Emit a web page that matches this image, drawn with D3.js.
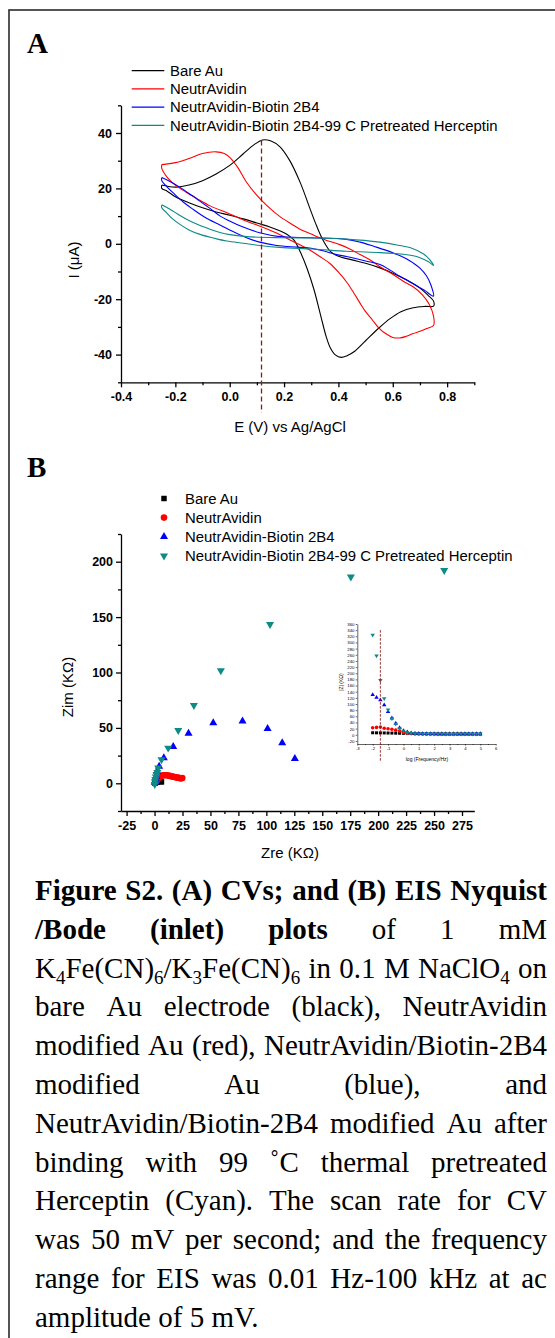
<!DOCTYPE html>
<html>
<head>
<meta charset="utf-8">
<script src="https://cdn.jsdelivr.net/npm/d3@7"></script>
<style>
  html, body { margin: 0; padding: 0; background: #fff; }
  svg { display: block; }
</style>
</head>
<body>
<svg id="fig" width="555" height="1338"></svg>
<script>
// ---------------- data ----------------
const seriesNames = [
  "Bare Au",
  "NeutrAvidin",
  "NeutrAvidin-Biotin 2B4",
  "NeutrAvidin-Biotin 2B4-99 C Pretreated Herceptin"
];
const seriesColors = ["#000000", "#ff0000", "#0000ff", "#0e8a87"];

// (A) cyclic voltammograms, [E (V), I (uA)], forward then reverse scan
const cvBare = [
  [-0.25, 21.2], [-0.22, 20.6], [-0.19, 20.5], [-0.15, 21.2], [-0.1, 22.8], [-0.05, 25.2],
  [0.0, 28.3], [0.05, 32.5], [0.09, 35.8], [0.12, 37.5], [0.15, 37.2], [0.185, 35.0],
  [0.22, 30.2], [0.26, 22.0], [0.295, 12.8], [0.32, 6.4], [0.345, 1.0], [0.37, -2.7],
  [0.4, -4.5], [0.45, -5.8], [0.5, -7.0], [0.55, -8.6], [0.6, -10.6], [0.65, -13.0],
  [0.7, -16.0], [0.73, -18.6], [0.75, -20.7], [0.75, -22.5],
  [0.72, -22.6], [0.675, -23.1], [0.63, -24.5], [0.59, -27.0], [0.55, -30.3], [0.5, -35.0],
  [0.46, -38.8], [0.43, -40.5], [0.41, -41.0], [0.39, -40.2], [0.37, -37.5], [0.355, -33.5],
  [0.335, -26.0], [0.31, -16.5], [0.285, -9.0], [0.26, -3.0], [0.235, 1.5], [0.2, 4.0],
  [0.15, 6.0], [0.1, 7.5], [0.05, 9.0], [0.0, 10.3], [-0.05, 11.5], [-0.1, 13.0],
  [-0.15, 14.8], [-0.2, 17.0], [-0.23, 19.0], [-0.25, 20.0], [-0.25, 21.2]
];
const cvNeutr = [
  [-0.25, 28.6], [-0.2, 29.3], [-0.15, 30.8], [-0.1, 32.6], [-0.05, 33.2], [-0.02, 32.6],
  [0.0, 31.2], [0.03, 27.5], [0.06, 22.5], [0.1, 17.5], [0.14, 13.5], [0.185, 9.8],
  [0.23, 7.0], [0.26, 5.2], [0.3, 3.5], [0.33, 2.2], [0.37, 0.8], [0.405, -0.3],
  [0.44, -1.8], [0.48, -3.9], [0.52, -6.0], [0.55, -8.1], [0.6, -11.0], [0.64, -13.6],
  [0.675, -15.5], [0.71, -18.5], [0.735, -22.0], [0.75, -26.1], [0.75, -29.5],
  [0.725, -30.6], [0.7, -31.6], [0.675, -32.4], [0.65, -33.4], [0.625, -34.0], [0.6, -33.8],
  [0.575, -32.5], [0.55, -30.5], [0.525, -27.5], [0.5, -24.5], [0.48, -21.5], [0.455, -17.5],
  [0.43, -13.8], [0.405, -10.8], [0.37, -7.2], [0.33, -4.5], [0.29, -2.0], [0.23, 1.0],
  [0.17, 4.0], [0.1, 6.8], [0.06, 8.2], [0.0, 10.8], [-0.07, 13.6], [-0.12, 16.3],
  [-0.16, 18.6], [-0.2, 21.2], [-0.23, 24.0], [-0.25, 27.2], [-0.25, 28.6]
];
const cvBiotin = [
  [-0.25, 23.9], [-0.22, 22.5], [-0.18, 20.2], [-0.14, 17.5], [-0.11, 15.4], [-0.07, 12.6],
  [-0.035, 10.0], [0.0, 8.2], [0.04, 6.4], [0.11, 4.0], [0.185, 2.6], [0.3, 2.2],
  [0.43, 1.6], [0.48, 0.6], [0.53, -0.9], [0.6, -3.2], [0.65, -5.4], [0.675, -6.9],
  [0.7, -8.8], [0.725, -11.7], [0.74, -14.8], [0.75, -18.9],
  [0.74, -18.5], [0.72, -17.0], [0.7, -15.9], [0.66, -13.6], [0.626, -11.7], [0.59, -9.5],
  [0.553, -7.5], [0.5, -6.2], [0.43, -4.6], [0.394, -3.9], [0.35, -2.7], [0.3, -1.6],
  [0.25, -1.2], [0.173, -0.6], [0.11, 0.6], [0.062, 2.2], [0.0, 5.0], [-0.036, 6.8],
  [-0.09, 9.5], [-0.134, 12.4], [-0.17, 15.0], [-0.208, 18.4], [-0.23, 20.5], [-0.25, 22.8],
  [-0.25, 23.9]
];
const cvHerceptin = [
  [-0.25, 14.1], [-0.22, 12.5], [-0.183, 10.2], [-0.15, 8.4], [-0.109, 6.6], [-0.07, 5.2],
  [-0.036, 4.1], [0.0, 3.3], [0.062, 2.6], [0.185, 2.2], [0.308, 2.1], [0.43, 1.7],
  [0.553, 0.6], [0.62, -0.5], [0.67, -1.6], [0.712, -3.6], [0.735, -5.6], [0.75, -7.8],
  [0.73, -6.4], [0.7, -5.0], [0.675, -4.3], [0.62, -3.6], [0.553, -3.2], [0.43, -2.7],
  [0.308, -1.9], [0.185, -1.3], [0.111, -0.6], [0.05, 0.2], [-0.011, 1.0], [-0.06, 2.1],
  [-0.109, 3.4], [-0.15, 5.0], [-0.183, 7.0], [-0.21, 9.0], [-0.232, 11.2], [-0.25, 13.0],
  [-0.25, 14.1]
];
const cvPeakE = 0.117;            // dashed marker at the bare Au anodic peak
const cvPeakSpan = [37.3, -61];   // I range the dashed marker covers

const cvXMajor = [-0.4, -0.2, 0, 0.2, 0.4, 0.6, 0.8];
const cvXMinor = [-0.3, -0.1, 0.1, 0.3, 0.5, 0.7, 0.9];
const cvYMajor = [-40, -20, 0, 20, 40];
const cvYMinor = [-50, -30, -10, 10, 30, 50];

// (B) Nyquist, [Zre, Zim] in kOhm
const nyqBare = [
  [0.3, 0.2], [0.8, 0.5], [1.3, 0.9], [1.9, 1.2], [2.5, 1.5], [3.1, 1.7],
  [3.8, 1.8], [4.4, 1.8], [5.0, 1.7], [5.6, 1.5], [6.2, 1.3]
];
const nyqNeutr = [
  [1.5, 1.5], [2.5, 3.2], [3.6, 4.8], [4.8, 6.0], [6.2, 6.8], [7.7, 7.2], [9.2, 7.3],
  [10.7, 7.2], [12.2, 7.0], [13.6, 6.7], [15.0, 6.4], [16.4, 6.0], [17.8, 5.7], [19.1, 5.4],
  [20.3, 5.1], [21.4, 4.9], [22.4, 4.7], [23.3, 4.6], [24.1, 4.6], [24.8, 4.8]
];
const nyqBiotin = [
  [0.2, 0.8], [0.5, 2.2], [0.9, 4.0], [1.4, 6.3], [2.3, 10.8], [4.1, 15.3], [8.3, 22.9],
  [16.7, 33.1], [30.4, 45.1], [52.5, 54.5], [78.7, 56.0], [101.1, 49.4], [114.2, 36.4],
  [125.5, 22.3]
];
const nyqHerceptin = [
  [0.2, -1.0], [0.4, 1.5], [0.7, 3.5], [1.2, 5.9], [1.8, 8.0], [2.5, 9.9], [3.3, 13.9],
  [6.2, 21.4], [12.2, 31.9], [21.2, 47.8], [35.2, 70.4], [59.3, 101.7], [103.3, 143.5],
  [175.6, 186.3], [259.1, 192.2]
];
const nyqXMajor = [-25, 0, 25, 50, 75, 100, 125, 150, 175, 200, 225, 250, 275];
const nyqXMinor = [-12.5, 12.5, 37.5, 62.5, 87.5, 112.5, 137.5, 162.5, 187.5, 212.5, 237.5, 262.5];
const nyqYMajor = [0, 50, 100, 150, 200];
const nyqYMinor = [-25, 25, 75, 125, 175, 225];

// (B inset) Bode |Z| (kOhm) against log(f / Hz)
const bodeLogF = [-2, -1.75, -1.5, -1.25, -1, -0.75, -0.5, -0.25, 0, 0.25, 0.5, 0.75, 1, 1.25,
  1.5, 1.75, 2, 2.25, 2.5, 2.75, 3, 3.25, 3.5, 3.75, 4, 4.25, 4.5, 4.75, 5];
const bodeBare = [6.5, 6.3, 6.1, 5.9, 5.7, 5.5, 5.2, 4.9, 4.6, 4.3, 4.0, 3.7, 3.4, 3.1,
  2.9, 2.8, 2.7, 2.6, 2.6, 2.5, 2.5, 2.5, 2.5, 2.5, 2.5, 2.5, 2.5, 2.5, 2.5];
const bodeNeutr = [23, 24, 25, 21, 19.5, 18, 15, 12, 7.5, 5, 4, 3.5, 3.2, 3,
  2.9, 2.8, 2.8, 2.7, 2.7, 2.7, 2.7, 2.7, 2.7, 2.7, 2.7, 2.7, 2.7, 2.7, 2.7];
const bodeBiotin = [130, 121, 113, 97, 75, 54, 37, 23, 13, 9, 6, 4.5, 4, 3.5,
  3.2, 3, 3, 2.9, 2.9, 2.9, 2.9, 2.9, 2.9, 2.9, 2.9, 2.9, 2.9, 2.9, 2.9];
const bodeHerceptin = [324, 257, 177, 118, 81, 53, 35, 20, 12, 7, 5, 4, 3.6, 3.3,
  3.1, 3, 3, 3, 3, 3, 3, 3, 3, 3, 3, 3, 3, 3, 3];
const bodeMarkLogF = -1.5;
const bodeMarkSpan = [340, -85];
const bodeXMajor = [-3, -2, -1, 0, 1, 2, 3, 4, 5, 6];
const bodeXMinor = [-2.5, -1.5, -0.5, 0.5, 1.5, 2.5, 3.5, 4.5, 5.5];
const bodeYMajor = [-20, 0, 20, 40, 60, 80, 100, 120, 140, 160, 180, 200, 220, 240, 260, 280,
  300, 320, 340, 360];

// caption, one entry per printed line ("**" = bold word, ~x~ = subscript)
const captionLines = [
  ["**Figure", "**S2.", "**(A)", "**CVs;", "**and", "**(B)", "**EIS", "**Nyquist"],
  ["**/Bode", "**(inlet)", "**plots", "of", "1", "mM"],
  ["K~4~Fe(CN)~6~/K~3~Fe(CN)~6~", "in", "0.1", "M", "NaClO~4~", "on"],
  ["bare", "Au", "electrode", "(black),", "NeutrAvidin"],
  ["modified", "Au", "(red),", "NeutrAvidin/Biotin-2B4"],
  ["modified", "Au", "(blue),", "and"],
  ["NeutrAvidin/Biotin-2B4", "modified", "Au", "after"],
  ["binding", "with", "99", "˚C", "thermal", "pretreated"],
  ["Herceptin", "(Cyan).", "The", "scan", "rate", "for", "CV"],
  ["was", "50", "mV", "per", "second;", "and", "the", "frequency"],
  ["range", "for", "EIS", "was", "0.01", "Hz-100", "kHz", "at", "ac"],
  ["amplitude", "of", "5", "mV."]
];

// ---------------- drawing ----------------
const SANS = "'Liberation Sans', Arial, Helvetica, sans-serif";
const SERIF = "'Liberation Serif', 'Times New Roman', serif";
const svg = d3.select("#fig");
const hyphen = f => d => f(d).replace("\u2212", "-");

// outer frame
svg.append("rect")
  .attr("x", 9).attr("y", 10).attr("width", 560).attr("height", 1345)
  .attr("fill", "none").attr("stroke", "#2b2b2b").attr("stroke-width", 1.6);

svg.append("text").attr("x", 27).attr("y", 53).text("A")
  .attr("font-family", SERIF).attr("font-weight", "bold").attr("font-size", 29);
svg.append("text").attr("x", 27).attr("y", 477).text("B")
  .attr("font-family", SERIF).attr("font-weight", "bold").attr("font-size", 29);

function drawAxes(g, x, y, s) {
  const bottom = y.range()[0];
  const left = x.range()[0];
  const gx = g.append("g").attr("transform", `translate(0,${bottom})`);
  if (s.xMinor) {
    gx.append("g")
      .call(d3.axisBottom(x).tickValues(s.xMinor).tickSize(s.minor).tickFormat(""))
      .call(a => a.select(".domain").remove());
  }
  gx.append("g")
    .call(d3.axisBottom(x).tickValues(s.xMajor).tickSize(s.major).tickSizeOuter(0)
      .tickPadding(s.padX).tickFormat(s.fx));

  const gy = g.append("g").attr("transform", `translate(${left},0)`);
  if (s.yMinor) {
    gy.append("g")
      .call(d3.axisLeft(y).tickValues(s.yMinor).tickSize(s.minor).tickFormat(""))
      .call(a => a.select(".domain").remove());
  }
  gy.append("g")
    .call(d3.axisLeft(y).tickValues(s.yMajor).tickSize(s.major).tickSizeOuter(0)
      .tickPadding(s.padY).tickFormat(s.fy));

  g.selectAll("path, line").attr("stroke", "#000").attr("stroke-width", s.sw);
  g.selectAll("text")
    .attr("font-family", SANS).attr("font-size", s.fs)
    .attr("font-weight", s.fw).attr("fill", "#000");
}

// ---------- panel A : CV ----------
const xA = d3.scaleLinear().domain([-0.4, 0.9]).range([121, 474.3]);
const yA = d3.scaleLinear().domain([-50, 50]).range([382.3, 105.3]);
const gA = svg.append("g");

drawAxes(gA.append("g"), xA, yA, {
  xMajor: cvXMajor, xMinor: cvXMinor, yMajor: cvYMajor, yMinor: cvYMinor,
  fx: hyphen(d3.format(".1f")), fy: hyphen(d3.format("d")),
  major: 5, minor: 3, padX: 5, padY: 4, sw: 1.3, fs: 12.5, fw: "bold"
});

const cvLine = d3.line()
  .x(d => xA(d[0])).y(d => yA(d[1]))
  .curve(d3.curveCatmullRom.alpha(0.5));

[cvBare, cvNeutr, cvBiotin, cvHerceptin].forEach((cv, i) => {
  gA.append("path").datum(cv)
    .attr("d", cvLine)
    .attr("fill", "none")
    .attr("stroke", seriesColors[i])
    .attr("stroke-width", 1.1);
});

gA.append("line")
  .attr("x1", xA(cvPeakE)).attr("x2", xA(cvPeakE))
  .attr("y1", yA(cvPeakSpan[0])).attr("y2", yA(cvPeakSpan[1]))
  .attr("stroke", "#8e1b1b").attr("stroke-width", 1.3)
  .attr("stroke-dasharray", "5,3");

const legA = gA.append("g").attr("font-family", SANS).attr("font-size", 14.9);
seriesNames.forEach((name, i) => {
  const yy = 70.7 + i * 18.2;
  legA.append("line").attr("x1", 131.7).attr("x2", 164.3).attr("y1", yy).attr("y2", yy)
    .attr("stroke", seriesColors[i]).attr("stroke-width", 1.3);
  legA.append("text").attr("x", 170).attr("y", yy + 5.3).text(name);
});

gA.append("text").attr("x", 290).attr("y", 432).attr("text-anchor", "middle")
  .attr("font-family", SANS).attr("font-size", 15).text("E (V) vs Ag/AgCl");
gA.append("text").attr("transform", "translate(78.5,260) rotate(-90)")
  .attr("text-anchor", "middle").attr("font-family", SANS).attr("font-size", 15)
  .text("I (\u03bcA)");

// ---------- panel B : Nyquist ----------
const xB = d3.scaleLinear().domain([-30, 286]).range([121, 474.3]);
const yB = d3.scaleLinear().domain([-25, 225]).range([811, 534]);
const gB = svg.append("g");

drawAxes(gB.append("g"), xB, yB, {
  xMajor: nyqXMajor, xMinor: nyqXMinor, yMajor: nyqYMajor, yMinor: nyqYMinor,
  fx: hyphen(d3.format("d")), fy: hyphen(d3.format("d")),
  major: 5, minor: 3, padX: 5, padY: 3, sw: 1.3, fs: 12.5, fw: "bold"
});

const markerShapes = [
  { type: d3.symbolSquare, size: 30, rot: 0 },
  { type: d3.symbolCircle, size: 34, rot: 0 },
  { type: d3.symbolTriangle, size: 28, rot: 0 },
  { type: d3.symbolTriangle, size: 28, rot: 180 }
];

function drawMarkers(g, pts, i, x, y, scale) {
  const m = markerShapes[i];
  const sym = d3.symbol().type(m.type).size(m.size * scale);
  g.append("g").selectAll("path").data(pts).join("path")
    .attr("d", sym)
    .attr("transform", d => `translate(${x(d[0])},${y(d[1])}) rotate(${m.rot})`)
    .attr("fill", seriesColors[i]);
}

[nyqBare, nyqNeutr, nyqBiotin, nyqHerceptin].forEach((pts, i) =>
  drawMarkers(gB, pts, i, xB, yB, 1));

const legB = gB.append("g").attr("font-family", SANS).attr("font-size", 14.9);
seriesNames.forEach((name, i) => {
  const yy = 498.5 + i * 19.1;
  const m = markerShapes[i];
  legB.append("path")
    .attr("d", d3.symbol().type(m.type).size(m.size))
    .attr("transform", `translate(164,${yy}) rotate(${m.rot})`)
    .attr("fill", seriesColors[i]);
  legB.append("text").attr("x", 185).attr("y", yy + 5.3).text(name);
});

gB.append("text").attr("x", 290).attr("y", 858).attr("text-anchor", "middle")
  .attr("font-family", SANS).attr("font-size", 15).text("Zre (K\u03a9)");
gB.append("text").attr("transform", "translate(72.5,687) rotate(-90)")
  .attr("text-anchor", "middle").attr("font-family", SANS).attr("font-size", 15)
  .text("Zim (K\u03a9)");

// ---------- inset : Bode ----------
const xI = d3.scaleLinear().domain([-3, 6]).range([357.3, 495.7]);
const yI = d3.scaleLinear().domain([-30, 360]).range([744, 624]);
const gI = svg.append("g");

drawAxes(gI.append("g"), xI, yI, {
  xMajor: bodeXMajor, xMinor: bodeXMinor, yMajor: bodeYMajor, yMinor: null,
  fx: hyphen(d3.format("d")), fy: hyphen(d3.format("d")),
  major: 1.6, minor: 1, padX: 1.5, padY: 1.2, sw: 0.6, fs: 4.3, fw: "normal"
});

[bodeBare, bodeNeutr, bodeBiotin, bodeHerceptin].forEach((vals, i) => {
  const pts = bodeLogF.map((f, k) => [f, vals[k]]);
  drawMarkers(gI, pts, i, xI, yI, 0.3);
});

gI.append("line")
  .attr("x1", xI(bodeMarkLogF)).attr("x2", xI(bodeMarkLogF))
  .attr("y1", yI(bodeMarkSpan[0])).attr("y2", yI(bodeMarkSpan[1]))
  .attr("stroke", "#8e1b1b").attr("stroke-width", 0.9)
  .attr("stroke-dasharray", "2.5,1.5");

gI.append("text").attr("x", 427).attr("y", 760.5).attr("text-anchor", "middle")
  .attr("font-family", SANS).attr("font-size", 5).text("log (Frequency/Hz)");
gI.append("text").attr("transform", "translate(343,682) rotate(-90)")
  .attr("text-anchor", "middle").attr("font-family", SANS).attr("font-size", 5)
  .text("|Z| (K\u03a9)");

// ---------- caption (justified lines) ----------
const capLeft = 35, capRight = 547, capBase = 900, capLead = 38.8;
const capG = svg.append("g").attr("font-family", SERIF).attr("font-size", 29).attr("fill", "#000");

function makeWord(g, w, yb) {
  const bold = w.startsWith("**");
  const body = bold ? w.slice(2) : w;
  const t = g.append("text").attr("y", yb).attr("font-weight", bold ? "bold" : "normal");
  let shifted = false;
  body.split("~").forEach((seg, k) => {
    if (!seg) return;
    const sub = k % 2 === 1;
    const ts = t.append("tspan").text(seg);
    if (sub) ts.attr("font-size", 19);
    if (sub !== shifted) {
      ts.attr("dy", sub ? 6 : -6);
      shifted = sub;
    }
  });
  return t;
}

captionLines.forEach((words, i) => {
  const yb = capBase + i * capLead;
  const nodes = words.map(w => makeWord(capG, w, yb));
  const widths = nodes.map(n => n.node().getComputedTextLength());
  const last = i === captionLines.length - 1;
  const gap = last ? 7.25 : (capRight - capLeft - d3.sum(widths)) / (words.length - 1);
  let xx = capLeft;
  nodes.forEach((n, j) => {
    n.attr("x", xx);
    xx += widths[j] + gap;
  });
});
</script>
</body>
</html>
